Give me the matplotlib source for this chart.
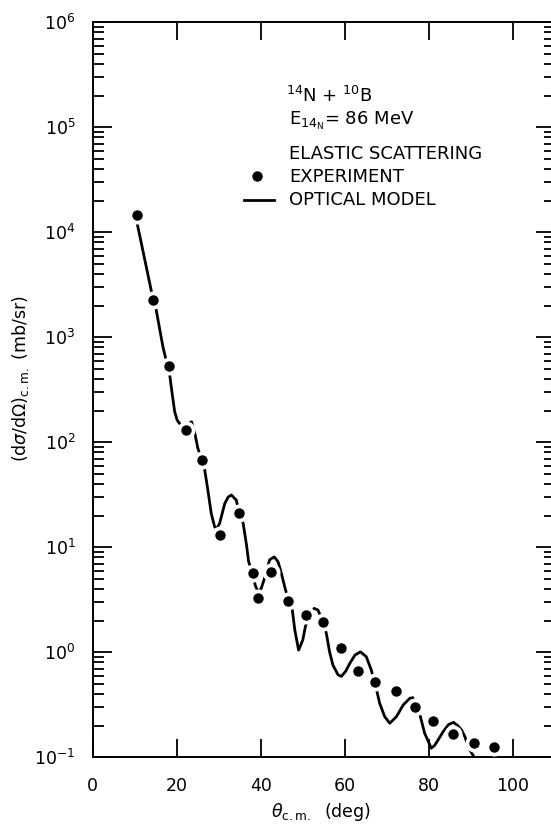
import matplotlib
matplotlib.use("Agg")
import matplotlib.pyplot as plt
from matplotlib.ticker import LogLocator, FixedLocator, NullLocator, NullFormatter

# Elastic scattering 14N + 10B, experiment points
theta_exp = [10.5, 14.4, 18.2, 22.3, 26.0, 30.3, 34.7, 38.1, 39.3, 42.4, 46.5,
             50.8, 54.8, 59.1, 63.1, 67.3, 72.2, 76.7, 81.1, 85.8, 90.8, 95.6]
sigma_exp = [14500, 2290, 537, 130, 68, 13.0, 21.1, 5.75, 3.27, 5.83, 3.1,
             2.25, 1.95, 1.09, 0.67, 0.523, 0.432, 0.302, 0.22, 0.167, 0.138, 0.124]

# optical model curve
theta_om = [10.5, 13.4, 14.4, 15.1, 16.7, 18.3, 18.9, 19.5, 20.1, 20.9,
            21.7, 22.3, 23.0, 23.5, 24.3, 25.0, 25.9, 26.6, 27.4, 28.2, 29.0,
            29.5, 30.2, 31.4, 32.2, 33.0, 34.2, 34.7, 35.8, 36.6, 37.1, 38.1,
            38.7, 39.5, 40.1, 40.9, 42.1, 43.2, 44.1, 44.9, 45.7, 46.5, 47.5,
            48.1, 49.0, 50.0, 50.6, 51.6, 52.7, 53.6, 54.7, 55.6, 56.4, 57.2,
            58.4, 59.2, 60.2, 61.2, 62.4, 63.7, 65.1, 66.3, 67.5, 68.3, 69.5,
            70.7, 72.3, 73.9, 75.5, 76.2, 77.0, 78.0, 79.0, 80.6, 81.4, 82.2,
            83.4, 84.7, 85.9, 86.9, 87.8, 88.6, 89.5, 90.8, 91.6]
sigma_om = [12500, 3500, 2250, 1820, 810, 440, 290, 195, 162, 147,
            141, 142, 152, 157, 122, 88, 69, 56, 35, 21, 15.7,
            15.0, 16.9, 26, 30, 31.5, 28, 22, 16.9, 10.5, 7.3, 5.6,
            4.3, 3.7, 4.07, 5.07, 7.6, 8.1, 7.3, 5.65, 4.2, 3.2, 2.53,
            1.63, 1.05, 1.31, 1.75, 2.3, 2.62, 2.53, 2.0, 1.52, 1.0, 0.75,
            0.61, 0.59, 0.66, 0.785, 0.94, 1.01, 0.91, 0.68, 0.45, 0.327, 0.244,
            0.211, 0.244, 0.315, 0.365, 0.37, 0.3, 0.244, 0.17, 0.122, 0.13, 0.146,
            0.175, 0.205, 0.215, 0.2, 0.182, 0.157, 0.123, 0.1, 0.088]

x_ticks = [0, 20, 40, 60, 80, 100]
y_ticks = [1e-1, 1e0, 1e1, 1e2, 1e3, 1e4, 1e5, 1e6]

W, H = 551, 824
fig = plt.figure(figsize=(W / 100, H / 100), dpi=100)
ax = fig.add_axes([92.8 / W, 1 - 757.3 / H, 462 / W, 735 / H])

ax.plot(theta_om, sigma_om, color="black", lw=2.0, solid_capstyle="butt", zorder=2)
# white halo around the dots breaks the line like in the original drawing
ax.plot(theta_exp, sigma_exp, "o", ms=13, color="white", mec="none", zorder=3)
ax.plot(theta_exp, sigma_exp, "o", ms=7.5, color="black", mec="none", zorder=4)

ax.set_yscale("log")
ax.set_xlim(0, 110)
ax.set_ylim(0.1, 1e6)

ax.set_xticks(x_ticks)
ax.xaxis.set_minor_locator(NullLocator())
ax.yaxis.set_major_locator(FixedLocator(y_ticks))
ax.yaxis.set_minor_locator(LogLocator(base=10, subs=[2, 3, 4, 5, 6, 7, 8, 9], numticks=20))
ax.yaxis.set_minor_formatter(NullFormatter())

ax.tick_params(axis="x", which="major", direction="in", top=True, bottom=True,
               length=13, width=1.3, pad=14, labelsize=12.5)
ax.tick_params(axis="y", which="major", direction="in", left=True, right=True,
               length=13.4, width=1.3, pad=12.5, labelsize=12.5)
ax.tick_params(axis="y", which="minor", direction="in", left=True, right=True,
               length=8, width=1.3)
for s in ax.spines.values():
    s.set_linewidth(1.4)

# y label and x label
fig.text(21 / W, 1 - 378 / H, r"$(\mathrm{d}\sigma/\mathrm{d}\Omega)_{\mathrm{c.m.}}$ (mb/sr)",
         rotation=90, ha="center", va="center", fontsize=12.5)
fig.text(321 / W, 1 - 812 / H, r"$\theta_{\mathrm{c.m.}}$  (deg)",
         ha="center", va="center", fontsize=12.5)

# legend block
fs = 13
fig.text(286 / W, 1 - 96 / H, r"$^{14}$N + $^{10}$B", ha="left", va="center", fontsize=fs)
fig.text(289 / W, 1 - 121 / H, r"E$_{14_{\mathrm{N}}}$= 86 MeV", ha="left", va="center", fontsize=fs)
fig.text(289 / W, 1 - 154 / H, "ELASTIC SCATTERING", ha="left", va="center", fontsize=fs)
fig.text(289 / W, 1 - 177 / H, "EXPERIMENT", ha="left", va="center", fontsize=fs)
fig.text(289 / W, 1 - 200 / H, "OPTICAL MODEL", ha="left", va="center", fontsize=fs)
fig.lines.append(plt.Line2D([256.5 / W], [1 - 176 / H], marker="o", ms=7.5,
                            color="black", mec="none", transform=fig.transFigure))
fig.lines.append(plt.Line2D([243.5 / W, 273.5 / W], [1 - 200 / H, 1 - 200 / H],
                            lw=2.0, color="black", transform=fig.transFigure))

fig.savefig("out.png", dpi=100)
